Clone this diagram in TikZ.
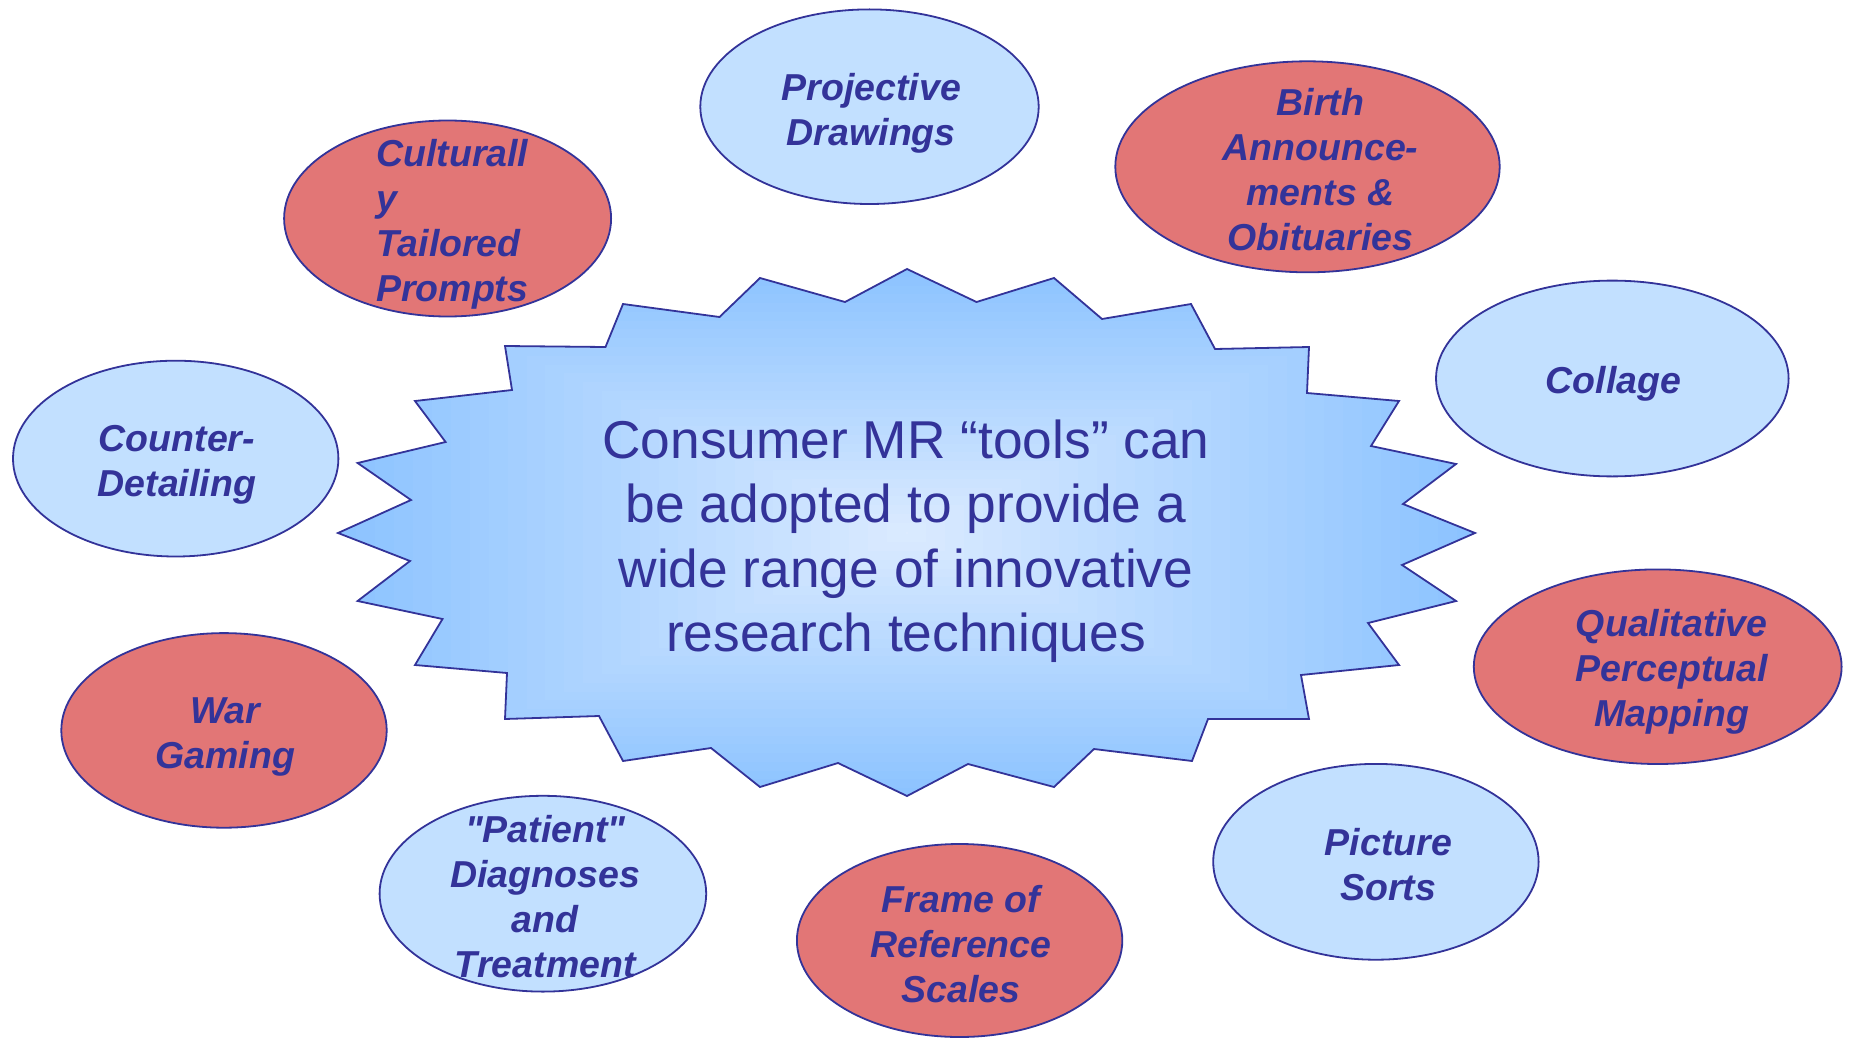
\documentclass[tikz,border=0pt]{standalone}
\usepackage{fontspec}
\setmainfont{Liberation Sans}
\usetikzlibrary{shapes.geometric}

\definecolor{ink}{HTML}{333399}
\definecolor{paleblue}{HTML}{C2E0FF}
\definecolor{rosered}{HTML}{E27676}
\definecolor{starEdge}{HTML}{8CC3FF}
\definecolor{starCore}{HTML}{DCEBFF}

\tikzset{
  bubble/.style={ellipse, draw=ink, line width=1.8pt, inner sep=0pt},
  coolbubble/.style={bubble, fill=paleblue},
  warmbubble/.style={bubble, fill=rosered},
  bubbletext/.style={text=ink, inner sep=0pt, align=center,
    font=\fontsize{37.5}{45}\selectfont\bfseries\itshape},
  coretext/.style={text=ink, inner sep=0pt, align=center,
    font=\fontsize{53.3}{64.5}\selectfont}
}

\begin{document}
\begin{tikzpicture}[x=1pt, y=-1pt]
\useasboundingbox (0,0) rectangle (1849,1038);

% starburst outline
\def\starpath{(907,269) -- (976.5,302) -- (1054,278) -- (1102,319) -- (1191,304) -- (1215,349)
  -- (1309,347) -- (1307,393) -- (1399,401) -- (1371,446) -- (1456,464) -- (1403,504)
  -- (1475,533) -- (1402,565) -- (1456,601) -- (1368,623) -- (1399,665) -- (1301,675)
  -- (1309,719) -- (1208,719) -- (1192,761) -- (1094,749) -- (1054,787) -- (968,764)
  -- (907,796) -- (838,763) -- (760,787) -- (711,748) -- (623,761) -- (599,716)
  -- (505,719) -- (507,673) -- (415,665) -- (442.5,619) -- (357.6,601) -- (410,561)
  -- (338,533) -- (411,500) -- (357.6,463) -- (445.6,442) -- (415,401) -- (512,390)
  -- (505,346) -- (605.5,347) -- (623,304) -- (719.5,317) -- (760,278) -- (845,302) -- cycle}

% rectangular gradient inside the starburst
\begin{scope}
  \clip \starpath;
  \foreach \i [evaluate=\i as \f using \i/30, evaluate=\i as \p using 100*\i/30] in {0,...,30} {
    \fill[starCore!\p!starEdge]
      ({906.5-568.5*(1-\f)-1}, {269+263.5*\f-1}) rectangle
      ({906.5+568.5*(1-\f)+1}, {796-263.5*\f+1});
  }
\end{scope}
\draw[ink, line width=1.8pt, line join=miter] \starpath;

\node[coretext] (core) at (906, 541)
  {Consumer MR “tools” can\\be adopted to provide a\\wide range of innovative\\research techniques};

% technique bubbles
\node[coolbubble, minimum width=338.4pt, minimum height=194.6pt] (proj) at (869.5,106.7) {};
\node[bubbletext] (projT) at (871.3,113.5) {Projective\\Drawings};

\node[warmbubble, minimum width=384.4pt, minimum height=211pt] (birth) at (1307.5,166.8) {};
\node[bubbletext] (birthT) at (1320.5,169.5) {Birth\\Announce-\\ments \&\\Obituaries};

\node[warmbubble, minimum width=327pt, minimum height=196pt] (cult) at (447.6,218.5) {};
\node[bubbletext, align=left, anchor=west] (cultT) at (376,224.5) {Culturall\\y\\Tailored\\Prompts};

\node[coolbubble, minimum width=352.6pt, minimum height=195.8pt] (coll) at (1612.3,378.5) {};
\node[bubbletext] (collT) at (1613.5,384) {Collage};

\node[coolbubble, minimum width=325.4pt, minimum height=195.8pt] (count) at (175.7,458.6) {};
\node[bubbletext] (countT) at (176.9,465) {Counter-\\Detailing};

\node[warmbubble, minimum width=367.8pt, minimum height=194.6pt] (qual) at (1657.7,666.7) {};
\node[bubbletext] (qualT) at (1671.8,672) {Qualitative\\Perceptual\\Mapping};

\node[warmbubble, minimum width=325.4pt, minimum height=194.6pt] (war) at (224,730.4) {};
\node[bubbletext] (warT) at (225.2,737) {War\\Gaming};

\node[coolbubble, minimum width=325.4pt, minimum height=195.8pt] (pic) at (1375.9,861.8) {};
\node[bubbletext] (picT) at (1388.3,864.5) {Picture\\Sorts};

\node[coolbubble, minimum width=326.6pt, minimum height=195.8pt] (pat) at (542.9,893.7) {};
\node[bubbletext] (patT) at (545.3,897) {\textquotedbl Patient\textquotedbl\\Diagnoses\\and\\Treatment};

\node[warmbubble, minimum width=325.4pt, minimum height=193pt] (frame) at (959.6,940.5) {};
\node[bubbletext] (frameT) at (960.9,944) {Frame of\\Reference\\Scales};
\end{tikzpicture}
\end{document}
